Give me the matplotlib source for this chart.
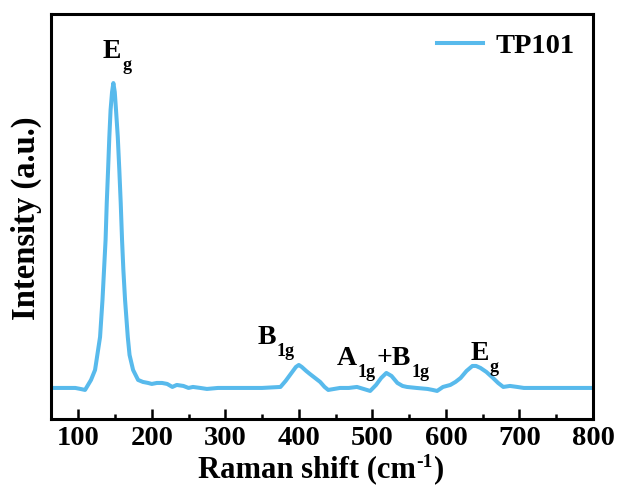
import matplotlib
matplotlib.use("Agg")
import matplotlib.pyplot as plt
from matplotlib.ticker import MultipleLocator

# Raman spectrum (shift in cm-1, intensity in a.u.)
shift = [63, 80, 96, 103, 109.3, 117.4, 122.9, 126, 129.7, 133, 135.1, 137.2, 138.8,
         140.6, 142.3, 144, 146, 147.8, 149.7, 151.4, 153.8, 155.9, 157.8, 159.6,
         161.4, 163.7, 167.4, 169.8, 174.6, 181.4, 188, 195, 200,
         207, 214, 221, 228, 234, 243, 250, 256, 266, 275, 290, 310, 330, 350, 375,
         382, 390, 396, 400, 404, 410, 415, 422, 429, 435, 440, 448, 456, 468, 479,
         488, 497, 505, 512, 519, 526, 534, 541, 547, 560, 575, 582, 588, 596, 606,
         613, 620, 628, 636, 641, 647, 655, 664, 671, 678, 687, 697, 706, 715, 740,
         770, 800]
intensity = [31, 31, 31, 30, 29, 39, 49, 64, 82, 119, 149, 179, 216,
             249, 282, 309, 327, 336, 327, 309, 282, 249, 216, 179,
             149, 119, 82, 64, 49, 39, 37, 36, 35,
             36, 36, 35, 32, 34, 33, 31, 32, 31, 30, 31, 31, 31, 31, 32,
             38, 46, 52, 54, 52, 48, 45, 41, 37, 32, 29, 30, 31, 31, 32,
             30, 28, 34, 41, 46, 43, 36, 33, 32, 31, 30, 29, 28, 32, 34,
             37, 41, 48, 53, 53, 51, 47, 41, 36, 32, 33, 32, 31, 31, 31,
             31, 31]

series_name = "TP101"
# peak labels: pieces of (text, is_subscript), left edge and baseline in data units
peak_parts = [
    [("E", False), ("g", True)],
    [("B", False), ("1g", True)],
    [("A", False), ("1g", True), ("+B", False), ("1g", True)],
    [("E", False), ("g", True)],
]
peak_x = [133.7, 343.3, 452.1, 633]
peak_y = [361, 75, 54, 59]

plt.rcParams["font.family"] = ["Liberation Serif", "DejaVu Serif"]
plt.rcParams["font.weight"] = "bold"

fig = plt.figure(figsize=(6.19, 4.86), dpi=100)
ax = fig.add_axes([0.0824, 0.138, 0.8756, 0.833])
renderer = fig.canvas.get_renderer()


def pieced_text(x, y, parts, transform, size, small, shift_pt, gap_pt=0.5):
    # lay out main / sub (or super) pieces one after another
    t = ax.text(x, y, parts[0][0], transform=transform, fontsize=size,
                fontweight="bold", ha="left", va="baseline")
    dx = t.get_window_extent(renderer).width * 72 / fig.dpi
    for txt, low in parts[1:]:
        p = ax.annotate(txt, xy=(x, y), xycoords=transform,
                        xytext=(dx + gap_pt, shift_pt if low else 0),
                        textcoords="offset points",
                        fontsize=small if low else size, fontweight="bold",
                        ha="left", va="baseline", annotation_clip=False)
        dx += gap_pt + p.get_window_extent(renderer).width * 72 / fig.dpi


ax.plot(shift, intensity, color="#58BAEC", lw=2.9, label=series_name)

ax.set_xlim(63, 800)
ax.set_ylim(0, 405)

for parts, x, y in zip(peak_parts, peak_x, peak_y):
    pieced_text(x, y, parts, ax.transData, 20, 13, -8.5)

ax.xaxis.set_major_locator(MultipleLocator(100))
ax.xaxis.set_minor_locator(MultipleLocator(50))
ax.tick_params(axis="x", which="major", direction="in", length=7, width=1.8,
               labelsize=20.5, pad=5)
ax.tick_params(axis="x", which="minor", direction="in", length=3.5, width=1.8)
ax.tick_params(axis="y", left=False, labelleft=False)
for lab in ax.get_xticklabels():
    lab.set_fontweight("bold")
for sp in ax.spines.values():
    sp.set_linewidth(2.2)

# x label with a hyphen superscript, as in the original
pieced_text(0.272, -0.145, [("Raman shift (cm", False), ("-1", True), (")", False)],
            ax.transAxes, 22, 14, 8, gap_pt=0.3)
fig.text(26 / 619, 1 - 218 / 486, "Intensity (a.u.)", rotation=90, fontsize=23.5,
         fontweight="bold", ha="center", va="center")

leg = ax.legend(loc="upper right", frameon=False, fontsize=20.5, handlelength=1.6,
                borderaxespad=0.25, handletextpad=0.45)
for t in leg.get_texts():
    t.set_fontweight("bold")

fig.savefig("out.png", dpi=100)
